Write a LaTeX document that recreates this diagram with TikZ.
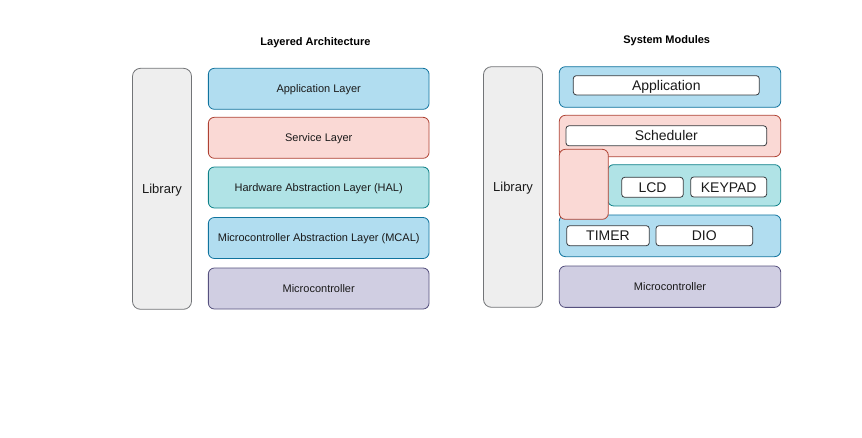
\documentclass[tikz,border=0pt]{standalone}
\usepackage{fontspec}
\setmainfont{Liberation Sans}
\usepackage{tikz}

\definecolor{bluefill}{HTML}{B1DDF0}
\definecolor{bluedraw}{HTML}{10739E}
\definecolor{redfill}{HTML}{FAD9D5}
\definecolor{reddraw}{HTML}{AE4132}
\definecolor{tealfill}{HTML}{B0E3E6}
\definecolor{tealdraw}{HTML}{0E8088}
\definecolor{purplefill}{HTML}{D0CEE2}
\definecolor{purpledraw}{HTML}{56517E}
\definecolor{greyfill}{HTML}{EEEEEE}
\definecolor{greydraw}{HTML}{36393D}
\definecolor{textcol}{HTML}{1A1A1A}

\begin{document}
\begin{tikzpicture}[x=1pt, y=-1pt,
    box/.style={draw, line width=0.8pt, rounded corners=6pt, inner sep=0pt, text=textcol,
                text height=7.9pt, text depth=0pt, font=\fontsize{11}{13}\selectfont},
    bluebox/.style={box, fill=bluefill, draw=bluedraw},
    redbox/.style={box, fill=redfill, draw=reddraw},
    tealbox/.style={box, fill=tealfill, draw=tealdraw},
    purplebox/.style={box, fill=purplefill, draw=purpledraw},
    libbox/.style={box, fill=greyfill, draw=greydraw!70, rounded corners=8pt, text height=9.4pt,
                   minimum width=59pt, minimum height=241pt, font=\fontsize{13}{15}\selectfont},
    modbox/.style={box, fill=white, draw=greydraw, rounded corners=3pt, minimum height=20pt,
                   text height=10pt, font=\fontsize{14}{16}\selectfont},
    title/.style={font=\bfseries\fontsize{11}{13}\selectfont, inner sep=0pt,
                  text height=7.9pt, text depth=0pt}]
      % Fix the page size
      \useasboundingbox (0, 0) rectangle (862, 437);

      % Left side: layered architecture
      \node[title] (ltitle) at (315.5, 42) {Layered Architecture};
      \node[libbox] (llib) at (162, 188.8) {Library};
      \node[bluebox, minimum width=220.7pt, minimum height=41pt] (lapp) at (318.7, 88.8) {Application Layer};
      \node[redbox, minimum width=220.7pt, minimum height=41pt] (lsrv) at (318.7, 137.8) {Service Layer};
      \node[tealbox, minimum width=220.7pt, minimum height=41pt] (lhal) at (318.7, 187.5) {Hardware Abstraction Layer (HAL)};
      \node[bluebox, minimum width=220.7pt, minimum height=41pt] (lmcal) at (318.7, 238) {Microcontroller Abstraction Layer (MCAL)};
      \node[purplebox, minimum width=220.7pt, minimum height=41pt] (lmcu) at (318.7, 288.5) {Microcontroller};

      % Right side: system modules
      \node[title] (rtitle) at (666.7, 39.5) {System Modules};
      \node[libbox, minimum height=240.6pt] (rlib) at (513, 187) {Library};
      \node[bluebox, minimum width=221.4pt, minimum height=40.6pt] (rapp) at (670, 87) {};
      \node[redbox, minimum width=221.4pt, minimum height=41.4pt] (rsrv) at (670, 136) {};
      \node[bluebox, minimum width=221.4pt, minimum height=41.7pt] (rmcal) at (670, 235.8) {};
      \node[tealbox, minimum width=173pt, minimum height=41.3pt] (rhal) at (694.2, 185.3) {};
      \node[redbox, minimum width=49pt, minimum height=70pt] (rsrvext) at (583.8, 184.3) {};
      \node[purplebox, minimum width=221.4pt, minimum height=41.3pt] (rmcu) at (670, 286.7) {Microcontroller};

      % Modules inside the layers
      \node[modbox, minimum width=186pt, minimum height=19.3pt] (application) at (666.3, 85.3) {Application};
      \node[modbox, minimum width=200.7pt] (scheduler) at (666.3, 135.8) {Scheduler};
      \node[modbox, minimum width=61.6pt] (lcd) at (652.5, 187.3) {LCD};
      \node[modbox, minimum width=76pt] (keypad) at (728.7, 187) {KEYPAD};
      \node[modbox, minimum width=82.6pt] (timer) at (608, 235.7) {TIMER};
      \node[modbox, minimum width=96.7pt] (dio) at (704.3, 235.7) {DIO};
\end{tikzpicture}
\end{document}
